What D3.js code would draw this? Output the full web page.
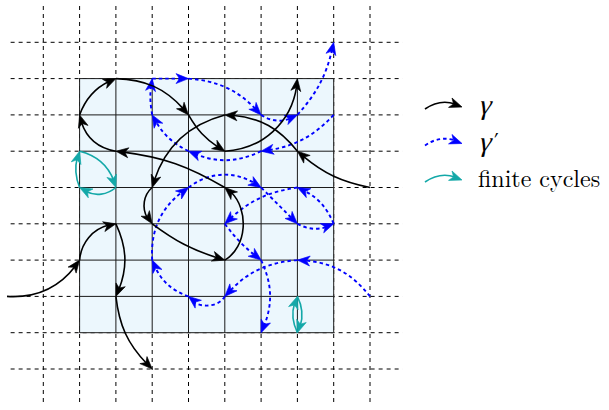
<!DOCTYPE html>
<html><head><meta charset="utf-8">
<script src="https://cdn.jsdelivr.net/npm/d3@7"></script>
<style>body{margin:0;background:#fff}</style>
</head><body><svg id="chart" width="609" height="410"></svg>
<script>
// nodes are [column, row] on the lattice, rows counted from the top
var gridCols = d3.range(0, 10), gridRows = d3.range(0, 10);
var boxCols = [1, 8], boxRows = [1, 8];

var gammaA = [[9,4],[7,3],[5,2],[3,4],[3,5],[5,6],[5,4],[2,3],[1,2],[2,1],[4,2],[5,3],[7,1]];
var gammaABend = [15,-25,-30,-50,-10,-60,-12,35,25,25,-15,-42];
var gammaB = [[-1,7],[1,6],[2,5],[2,7],[3,9]];
var gammaBBend = [-30,40,25,-20];
var primeA = [[8,2],[6,3],[4,3],[3,2],[3,1],[4,1],[6,2],[7,2],[8,0]];
var primeABend = [20,25,18,10,0,22,-33,-15];
var primeB = [[9,7],[7,6],[5,7],[4,7],[3,6],[4,4],[6,4],[7,5],[8,5],[7,4],[5,5],[6,6],[6,8]];
var primeBBend = [-25,-22,60,25,30,37,0,-28,-22,-18,-8,25];
var cycleA = [[1,3],[2,4],[1,4],[1,3]];
var cycleABend = [31,40,22];
var cycleB = [[7,8],[7,7],[7,8]];
var cycleBBend = [26,26];
var legendLabels = ["γ", "γ′", "finite cycles"];

var BLACK = "#000", BLUE = "#0000ff", TEAL = "#13a8a8";

var svg = d3.select("#chart");
var x = d3.scaleLinear().domain([0, 9]).range([43.3, 370]);
var y = d3.scaleLinear().domain([0, 9]).range([42.3, 369]);

// dashed background lattice
var g = svg.append("g");
g.selectAll("line.h").data(gridRows).enter().append("line")
  .attr("x1", x(-0.9)).attr("x2", x(9.9))
  .attr("y1", function(d){ return y(d); }).attr("y2", function(d){ return y(d); })
  .attr("stroke", "#000").attr("stroke-width", 1).attr("stroke-dasharray", "4,4");
g.selectAll("line.v").data(gridCols).enter().append("line")
  .attr("y1", y(-1)).attr("y2", y(10))
  .attr("x1", function(d){ return x(d); }).attr("x2", function(d){ return x(d); })
  .attr("stroke", "#000").attr("stroke-width", 1).attr("stroke-dasharray", "4,4");

// shaded box with solid grid
g.append("rect")
  .attr("x", x(boxCols[0])).attr("y", y(boxRows[0]))
  .attr("width", x(boxCols[1]) - x(boxCols[0]))
  .attr("height", y(boxRows[1]) - y(boxRows[0]))
  .attr("fill", "#ecf7fd");
var inner = d3.range(boxCols[0], boxCols[1] + 1);
g.selectAll("line.bh").data(d3.range(boxRows[0], boxRows[1] + 1)).enter().append("line")
  .attr("x1", x(boxCols[0])).attr("x2", x(boxCols[1]))
  .attr("y1", function(d){ return y(d); }).attr("y2", function(d){ return y(d); })
  .attr("stroke", "#1a1a1a").attr("stroke-width", 1);
g.selectAll("line.bv").data(inner).enter().append("line")
  .attr("y1", y(boxRows[0])).attr("y2", y(boxRows[1]))
  .attr("x1", function(d){ return x(d); }).attr("x2", function(d){ return x(d); })
  .attr("stroke", "#1a1a1a").attr("stroke-width", 1);

// cubic like tikz "bend left=θ" (positive = bulge to the left of travel)
function bez(a, b, bend) {
  var dx = b[0] - a[0], dy = b[1] - a[1], k = 0.3915, t = bend * Math.PI / 180;
  var c = Math.cos(t), s = Math.sin(t);
  return [a,
    [a[0] + k * (c * dx + s * dy), a[1] + k * (c * dy - s * dx)],
    [b[0] + k * (-c * dx + s * dy), b[1] + k * (-c * dy - s * dx)],
    b];
}
function at(p, t) {
  var u = 1 - t;
  return [0, 1].map(function(i){
    return u*u*u*p[0][i] + 3*u*u*t*p[1][i] + 3*u*t*t*p[2][i] + t*t*t*p[3][i];
  });
}
function lerp(a, b, t) { return [a[0] + (b[0]-a[0])*t, a[1] + (b[1]-a[1])*t]; }
// t where the curve is dist away from its end point
function tBack(p, dist) {
  var lo = 0, hi = 1;
  for (var n = 0; n < 30; n++) {
    var m = (lo + hi) / 2, q = at(p, m);
    if (Math.hypot(q[0]-p[3][0], q[1]-p[3][1]) > dist) lo = m; else hi = m;
  }
  return lo;
}
function firstPart(p, t) {
  var a = lerp(p[0], p[1], t), b = lerp(p[1], p[2], t), c = lerp(p[2], p[3], t);
  var d = lerp(a, b, t), e = lerp(b, c, t), f = lerp(d, e, t);
  return [p[0], a, d, f];
}

var AL = 12.5, AW = 10;
function arrowHead(sel, tip, from, color) {
  var ang = Math.atan2(tip[1]-from[1], tip[0]-from[0]) * 180 / Math.PI;
  sel.append("path")
    .attr("d", "M0,0L" + (-AL) + "," + (AW/2) + "L" + (-AL*0.72) + ",0L" + (-AL) + "," + (-AW/2) + "Z")
    .attr("transform", "translate(" + tip[0] + "," + tip[1] + ") rotate(" + ang + ")")
    .attr("fill", color).attr("stroke", color).attr("stroke-width", 0.6)
    .attr("stroke-linejoin", "miter");
}

function drawCurve(sel, a, b, bend, color, dash, width) {
  var p = bez(a, b, bend);
  var q = firstPart(p, tBack(p, AL * 0.6));
  var path = d3.path();
  path.moveTo(q[0][0], q[0][1]);
  path.bezierCurveTo(q[1][0], q[1][1], q[2][0], q[2][1], q[3][0], q[3][1]);
  sel.append("path").attr("d", path.toString())
    .attr("fill", "none").attr("stroke", color).attr("stroke-width", width)
    .attr("stroke-dasharray", dash);
  arrowHead(sel, b, at(p, tBack(p, AL)), color);
}

function drawWalk(nodes, bends, color, dash, width) {
  var sel = svg.append("g");
  for (var i = 0; i < nodes.length - 1; i++) {
    var a = [x(nodes[i][0]), y(nodes[i][1])], b = [x(nodes[i+1][0]), y(nodes[i+1][1])];
    drawCurve(sel, a, b, bends[i], color, dash, width);
  }
}

drawWalk(cycleA, cycleABend, TEAL, null, 1.6);
drawWalk(cycleB, cycleBBend, TEAL, null, 1.6);
drawWalk(primeA, primeABend, BLUE, "3.5,3", 1.9);
drawWalk(primeB, primeBBend, BLUE, "3.5,3", 1.9);
drawWalk(gammaA, gammaABend, BLACK, null, 1.6);
drawWalk(gammaB, gammaBBend, BLACK, null, 1.6);

// legend
var legend = [
  {label: legendLabels[0], color: BLACK, dash: null, w: 1.6},
  {label: legendLabels[1], color: BLUE, dash: "3.5,3", w: 1.9},
  {label: legendLabels[2], color: TEAL, dash: null, w: 1.6}
];
var ly = d3.scalePoint().domain(legendLabels).range([107, 180]);
var lg = svg.append("g");
legend.forEach(function(d) {
  var yy = ly(d.label);
  drawCurve(lg, [425, yy + 2], [462, yy], 32, d.color, d.dash, d.w);
  if (d.label.charAt(0) === "γ") {
    // the italic face is missing, so slant the upright serif gamma by hand
    var t = lg.append("text")
      .attr("transform", "translate(478," + (yy + 7) + ") skewX(-14)")
      .style("font-family", "\"Liberation Serif\"")
      .attr("font-size", 28).attr("fill", "#000");
    t.append("tspan").text("γ");
    if (d.label.length > 1) t.append("tspan").attr("font-size", 20).attr("dx", 0).attr("dy", -5).text("′");
  } else {
    lg.append("text").attr("x", 478).attr("y", yy + 7)
      .style("font-family", "\"Latin Modern Roman\"")
      .attr("font-size", 24).attr("fill", "#000").text(d.label);
  }
});
</script>
</body></html>
